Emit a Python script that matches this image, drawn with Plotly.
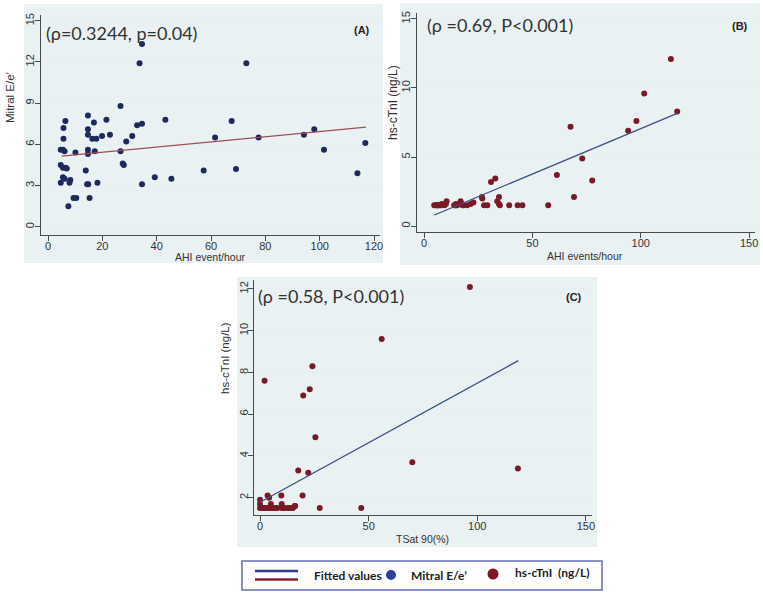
import plotly.graph_objects as go

W, H = 763, 593

# ---------------- data ----------------
a_ahi = [4.7, 4.7, 4.7, 5.5, 6.1, 5.5, 5.7, 5.7, 6.4, 5.5, 6.1, 6.4, 6.9, 7.5, 7.9, 8.2,
         9.4, 10.4, 10.1, 13.9, 14.4, 14.8, 14.7, 14.7, 14.7, 14.7, 14.7, 15.3, 16.3, 16.9,
         17.2, 17.8, 18.2, 19.9, 21.5, 22.8, 26.7, 26.7, 27.5, 27.9, 28.8, 31.0, 32.8, 33.7,
         34.6, 34.6, 34.6, 39.3, 43.2, 45.4, 57.3, 61.5, 67.6, 69.2, 73.0, 77.5, 94.2, 98.0,
         101.6, 113.9, 116.8]
a_ee = [3.2, 4.5, 5.6, 5.6, 5.5, 4.3, 6.4, 7.2, 7.7, 3.6, 3.5, 4.3, 4.25, 1.5, 3.2, 3.4,
        2.1, 2.1, 5.4, 4.1, 3.1, 3.1, 8.1, 7.1, 6.7, 5.6, 5.3, 2.1, 6.4, 7.6,
        5.5, 6.4, 3.2, 6.6, 7.8, 6.7, 8.8, 5.5, 4.6, 4.5, 6.2, 6.6, 7.4, 11.9,
        13.3, 7.5, 3.1, 3.6, 7.8, 3.5, 4.1, 6.5, 7.7, 4.2, 11.9, 6.5, 6.7, 7.1,
        5.6, 3.9, 6.1]
a_fit_x = [5.0, 117.0]
a_fit_y = [5.15, 7.25]

b_ahi = [4.7, 5.5, 5.7, 6.1, 6.4, 6.9, 7.5, 7.9, 8.2, 9.4, 10.1, 10.4,
         13.9, 14.4, 14.7, 14.8, 15.3, 16.3, 16.9, 17.2, 17.8, 18.2, 19.9, 21.5, 22.8,
         26.7, 26.9, 27.7, 29.2, 30.9, 32.9, 33.8, 34.6, 34.6, 35.0,
         39.3, 43.2, 45.4, 57.3, 61.3,
         67.6, 69.2, 73.0, 77.6,
         94.2, 98.0, 101.6, 113.9, 116.8]
b_tni = [1.5, 1.5, 1.5, 1.5, 1.5, 1.5, 1.5, 1.5, 1.6, 1.5, 1.6, 1.8,
         1.5, 1.5, 1.6, 1.5, 1.5, 1.6, 1.8, 1.6, 1.5, 1.5, 1.5, 1.6, 1.7,
         2.1, 2.0, 1.5, 1.5, 3.2, 3.45, 1.8, 2.1, 1.6, 1.5,
         1.5, 1.5, 1.5, 1.5, 3.7,
         7.2, 2.1, 4.9, 3.3,
         6.9, 7.6, 9.6, 12.1, 8.3]
b_fit_x = [4.8, 116.8]
b_fit_y = [0.8, 8.16]

c_tsat = [2.1, 96.6, 56.0, 24.1, 22.9, 19.9, 25.5, 70.1, 118.7, 17.6, 22.2, 19.6, 9.8,
          3.5, 4.2, 0.0, 0.0, 27.5, 46.6,
          0.0, 0.8, 1.6, 2.4, 3.0, 4.0, 5.0, 5.6, 6.3, 7.2, 8.0, 10.0, 10.6, 11.3,
          12.8, 13.6, 14.5, 15.2, 16.2,
          5.0, 10.0, 16.0]
c_tni = [7.6, 12.1, 9.6, 8.3, 7.2, 6.9, 4.9, 3.7, 3.4, 3.3, 3.2, 2.1, 2.1,
         2.1, 2.0, 1.9, 1.7, 1.5, 1.5,
         1.5, 1.5, 1.5, 1.5, 1.5, 1.5, 1.5, 1.5, 1.5, 1.5, 1.5, 1.5, 1.5, 1.5,
         1.5, 1.5, 1.5, 1.5, 1.6,
         1.7, 1.7, 1.6]
c_fit_x = [0.0, 118.9]
c_fit_y = [1.78, 8.57]

a_ticks_x = [0, 20, 40, 60, 80, 100, 120]
a_ticks_y = [0, 3, 6, 9, 12, 15]
b_ticks_x = [0, 50, 100, 150]
b_ticks_y = [0, 5, 10, 15]
c_ticks_x = [0, 50, 100, 150]
c_ticks_y = [2, 4, 6, 8, 10, 12]

legend_labels = ["Fitted values", "Mitral E/e\u2019", "hs-cTnI  (ng/L)"]

# ---------------- styles ----------------
BG = "#EAF1F3"
NAVY_DOT = "#1c2a5c"
MAROON_DOT = "#7a1a26"
FIT_A = "#9e4d55"
FIT_BC = "#3c5282"
AX = "#4a4a4a"
TXT = "#333333"
SANS = "Liberation Sans, Arial, sans-serif"
TICKFONT = dict(family=SANS, size=11, color=TXT)


def px(x):
    return x / W


def py(y):
    return 1 - y / H


fig = go.Figure()

fig.add_trace(go.Scatter(x=a_ahi, y=a_ee, mode="markers", xaxis="x", yaxis="y",
                         marker=dict(color=NAVY_DOT, size=6), showlegend=False))
fig.add_trace(go.Scatter(x=a_fit_x, y=a_fit_y, mode="lines", xaxis="x", yaxis="y",
                         line=dict(color=FIT_A, width=1.3), showlegend=False))
fig.add_trace(go.Scatter(x=b_ahi, y=b_tni, mode="markers", xaxis="x2", yaxis="y2",
                         marker=dict(color=MAROON_DOT, size=6), showlegend=False))
fig.add_trace(go.Scatter(x=b_fit_x, y=b_fit_y, mode="lines", xaxis="x2", yaxis="y2",
                         line=dict(color=FIT_BC, width=1.3), showlegend=False))
fig.add_trace(go.Scatter(x=c_tsat, y=c_tni, mode="markers", xaxis="x3", yaxis="y3",
                         marker=dict(color=MAROON_DOT, size=6), showlegend=False))
fig.add_trace(go.Scatter(x=c_fit_x, y=c_fit_y, mode="lines", xaxis="x3", yaxis="y3",
                         line=dict(color=FIT_BC, width=1.3), showlegend=False))


def xax(domain, rng, ticks, anchor):
    return dict(domain=domain, range=rng, tickvals=ticks, anchor=anchor,
                showline=True, linecolor=AX, linewidth=1, ticks="outside",
                ticklen=5, tickcolor=AX, showgrid=False, zeroline=False,
                tickfont=TICKFONT, automargin=False, ticklabelstandoff=-4)


def yax(domain, rng, ticks, anchor):
    return dict(domain=domain, range=rng, tickvals=ticks, anchor=anchor,
                showline=True, linecolor=AX, linewidth=1, ticks="outside",
                ticklen=5, tickcolor=AX, showgrid=True, gridcolor="#E6EEF0",
                gridwidth=1, zeroline=False, tickangle=-90, tickfont=TICKFONT,
                automargin=False, ticklabelstandoff=-4)


layout = dict(
    width=W, height=H, margin=dict(l=0, r=0, t=0, b=0, autoexpand=False),
    paper_bgcolor="white", plot_bgcolor="white", showlegend=False,
    xaxis=xax([px(40.7), px(380)], [-2.69, 122.2], a_ticks_x, "y"),
    yaxis=yax([py(235), py(15)], [-0.6, 15.42], a_ticks_y, "x"),
    xaxis2=xax([px(416.7), px(755)], [-3.37, 152.7], b_ticks_x, "y2"),
    yaxis2=yax([py(232), py(13)], [-0.43, 15.43], b_ticks_y, "x2"),
    xaxis3=xax([px(254), px(592)], [-2.76, 152.8], c_ticks_x, "y3"),
    yaxis3=yax([py(515), py(280)], [1.17, 12.43], c_ticks_y, "x3"),
)

shapes = []
# panel backgrounds
for (x0, y0, x1, y1) in [(24, 4, 383, 263), (400, 3, 760, 265), (237, 277, 597, 547)]:
    shapes.append(dict(type="rect", xref="paper", yref="paper", x0=px(x0), x1=px(x1),
                       y0=py(y1), y1=py(y0), fillcolor=BG, line=dict(width=0), layer="below"))
# legend box
shapes.append(dict(type="rect", xref="paper", yref="paper", x0=px(242), x1=px(602),
                   y0=py(590), y1=py(561), fillcolor="white",
                   line=dict(color="#6670B4", width=1.5)))
shapes.append(dict(type="line", xref="paper", yref="paper", x0=px(255), x1=px(298),
                   y0=py(571), y1=py(571), line=dict(color="#2C3C8C", width=2.5)))
shapes.append(dict(type="line", xref="paper", yref="paper", x0=px(255), x1=px(298),
                   y0=py(579.5), y1=py(579.5), line=dict(color="#8A1C30", width=2.5)))
for cx, cy, r, col in [(391, 575, 5, "#2E3E9A"), (493, 574, 5.5, "#7E1628")]:
    shapes.append(dict(type="circle", xref="paper", yref="paper", x0=px(cx - r), x1=px(cx + r),
                       y0=py(cy + r), y1=py(cy - r), fillcolor=col, line=dict(width=0)))
layout["shapes"] = shapes

ANN_FONT = "Lato, Open Sans, sans-serif"
ann = []


def add_text(x, y, text, size, xanchor="center", angle=0, bold=False, family=None):
    ann.append(dict(xref="paper", yref="paper", x=px(x), y=py(y), text=("<b>%s</b>" % text) if bold else text,
                    showarrow=False, xanchor=xanchor, yanchor="middle", textangle=angle,
                    font=dict(family=family or SANS, size=size, color="#222" if bold else TXT)))


# correlation labels
add_text(44, 33, "(\u03c1=0.3244, p=0.04)", 18, xanchor="left", family=ANN_FONT)
add_text(425, 25, "(\u03c1 =0.69, P<0.001)", 18, xanchor="left", family=ANN_FONT)
add_text(256, 296, "(\u03c1 =0.58, P<0.001)", 18, xanchor="left", family=ANN_FONT)
add_text(362, 30, "(A)", 11, bold=True)
add_text(740, 26, "(B)", 11, bold=True)
add_text(574, 297, "(C)", 11, bold=True)
# axis titles
add_text(10, 98, "Mitral E/e\u2019", 11.5, angle=-90)
add_text(210, 256.5, "AHI event/hour", 10.5)
add_text(393, 103, "hs-cTnI (ng/L)", 12, angle=-90)
add_text(585, 255.5, "AHI events/hour", 10.5)
add_text(225, 358, "hs-cTnI (ng/L)", 11.5, angle=-90)
add_text(422, 539, "TSat 90(%)", 10.5)
# legend texts
add_text(312, 575, legend_labels[0], 12, xanchor="left", bold=True, family=ANN_FONT)
add_text(409, 575, legend_labels[1], 12, xanchor="left", bold=True, family=ANN_FONT)
add_text(513, 572, legend_labels[2], 12, xanchor="left", bold=True, family=ANN_FONT)
layout["annotations"] = ann

fig.update_layout(**layout)
fig.write_html("out.html", config={"displayModeBar": False},
               post_script="document.body.style.margin='0';")
